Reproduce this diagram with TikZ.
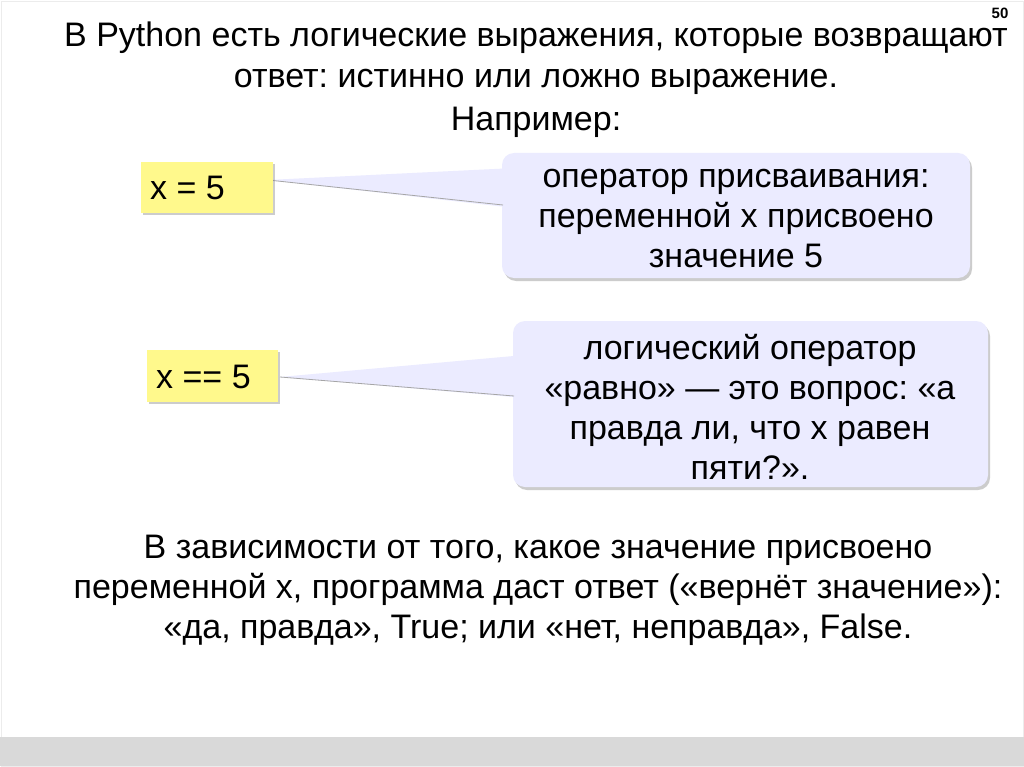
\documentclass[tikz,border=0pt]{standalone}
\usepackage{fontspec}
\setmainfont{Liberation Sans}
\usetikzlibrary{shadows}
\frenchspacing
\begin{document}
\begin{tikzpicture}[x=1pt,y=-1pt,
  txt/.style={font=\fontsize{34}{40}\selectfont,align=center,inner sep=0},
  ybox/.style={fill=yellow!45!white,draw=none,drop shadow={opacity=0.4,shadow xshift=2pt,shadow yshift=-2pt}},
  bub/.style={fill=blue!8!white,rounded corners=12pt,drop shadow={opacity=0.4,shadow xshift=2pt,shadow yshift=-3pt}},
  tail/.style={fill=blue!8!white,draw=none}]
\useasboundingbox (0,0) rectangle (1024,767);
\fill[white] (0,0) rectangle (1024,767);
\draw[gray!15] (1,1) rectangle (1023,766);
\fill[gray!30] (0,737) rectangle (1024,766);
\node[font=\bfseries\fontsize{15}{16}\selectfont] (num) at (1000,13) {50};
\node[txt] (t1) at (536,38) {В Python есть логические выражения, которые возвращают};
\node[txt] (t2) at (536,82) {ответ: истинно или ложно выражение.};
\node[txt] (t3) at (536,122) {Например:};
% callout 1
\path[bub] (502,153) rectangle (970,278);
\fill[tail] (268,180) -- (515,168) -- (515,208) -- cycle;
\draw[gray!70,line width=0.8pt] (268,180) -- (503,205);
\node[txt] (b1) at (736,219) {оператор присваивания:\\переменной x присвоено\\значение 5};
\path[ybox] (141,162) rectangle (273,213);
\node[txt,anchor=west] (y1) at (150,188) {x = 5};
% callout 2
\path[bub] (513,321) rectangle (988,487);
\fill[tail] (280,377) -- (525,355) -- (525,398) -- cycle;
\draw[gray!70,line width=0.8pt] (280,377) -- (514,396);
\node[txt] (b2) at (750,407) {логический оператор\\«равно» — это вопрос: «а\\правда ли, что x равен\\пяти?».};
\path[ybox] (147,350) rectangle (278,402);
\node[txt,anchor=west] (y2) at (156,377) {x == 5};
% bottom
\node[txt] (p) at (538,590) {В зависимости от того, какое значение присвоено\\переменной x, программа даст ответ («вернёт значение»):\\«да, правда», True; или «нет, неправда», False.};
\end{tikzpicture}
\end{document}
